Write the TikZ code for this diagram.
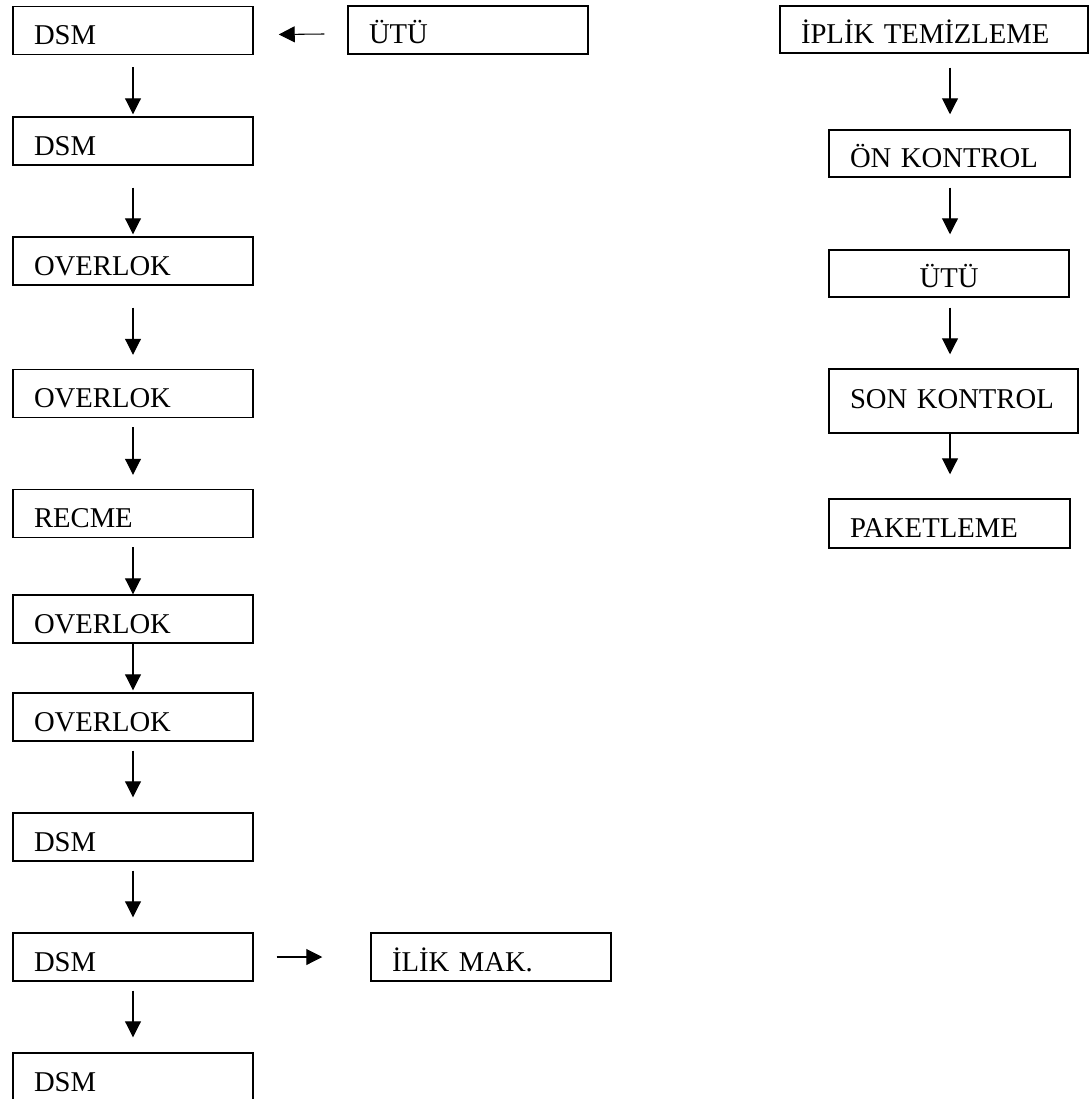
\documentclass[tikz,border=0pt]{standalone}
\usepackage{fontspec}
\setmainfont{Liberation Serif}
\usetikzlibrary{arrows.meta,calc}
\begin{document}
\begin{tikzpicture}[x=0.75pt,y=-0.75pt,
  box/.style={draw, line width=1.1pt, rectangle, inner xsep=15.75pt, inner ysep=0pt,
    text height=21pt, text depth=0pt, align=left, minimum height=36pt,
    font=\fontsize{21.5}{25}\selectfont},
  lbox/.style={box, text width=148.5pt},
  arr/.style={line width=0.8pt, -{Triangle[width=12pt,length=12pt]}}]
\useasboundingbox (0,0) rectangle (1090,1099);
\fill[white] (0,0) rectangle (1090,1099);
\coordinate (rc) at (950,0);
% left column
\node[lbox] (b1) at (133,30.5) {DSM};
\node[lbox] (b2) at (133,141) {DSM};
\node[lbox] (b3) at (133,261) {OVERLOK};
\node[lbox] (b4) at (133,393.5) {OVERLOK};
\node[lbox] (b5) at (133,513.5) {RECME};
\node[lbox] (b6) at (133,619) {OVERLOK};
\node[lbox] (b7) at (133,717) {OVERLOK};
\node[lbox] (b8) at (133,837) {DSM};
\node[lbox] (b9) at (133,957) {DSM};
\node[lbox] (b10) at (133,1077) {DSM};
% side boxes
\node[lbox] (utu1) at (468,30) {ÜTÜ};
\node[lbox] (ilik) at (491,957) {İLİK MAK.};
% right column
\node[box, text width=199.5pt, minimum height=35.25pt] (ip) at (934,29.5) {İPLİK TEMİZLEME};
\node[box, text width=149.25pt, minimum height=35.25pt] (on) at (949.5,153.5) {ÖN KONTROL};
\node[box, text width=148.5pt, minimum height=35.25pt, align=center] (utu2) at (949,273.5) {ÜTÜ};
\node[box, text width=155.25pt, minimum height=48pt, text height=10.5pt] (son) at (953.5,401) {SON KONTROL};
\node[box, text width=149.25pt, minimum height=36.75pt] (pak) at (949.5,523.5) {PAKETLEME};
% left arrows
\draw[arr] ($(b1.south)+(0,12)$) -- ($(b2.north)+(0,-2)$);
\draw[arr] ($(b2.south)+(0,22)$) -- ($(b3.north)+(0,-2)$);
\draw[arr] ($(b3.south)+(0,22)$) -- ($(b4.north)+(0,-14)$);
\draw[arr] ($(b4.south)+(0,9)$) -- ($(b5.north)+(0,-14)$);
\draw[arr] ($(b5.south)+(0,9)$) -- (b6.north);
\draw[arr] (b6.south) -- ($(b7.north)+(0,-2)$);
\draw[arr] ($(b7.south)+(0,9)$) -- ($(b8.north)+(0,-15)$);
\draw[arr] ($(b8.south)+(0,9)$) -- ($(b9.north)+(0,-15)$);
\draw[arr] ($(b9.south)+(0,9)$) -- ($(b10.north)+(0,-15)$);
% side arrows
\draw[arr] ($(utu1.west)+(-23,4)$) -- ($(b1.east)+(25,4)$);
\draw[arr] ($(b9.east)+(23,0)$) -- ($(ilik.west)+(-48,0)$);
% right arrows
\draw[arr] ($(ip.south -| rc)+(0,14)$) -- ($(on.north -| rc)+(0,-15)$);
\draw[arr] ($(on.south -| rc)+(0,10)$) -- ($(utu2.north -| rc)+(0,-15)$);
\draw[arr] ($(utu2.south -| rc)+(0,10)$) -- ($(son.north -| rc)+(0,-14)$);
\draw[arr] (son.south -| rc) -- ($(pak.north -| rc)+(0,-24)$);
\end{tikzpicture}
\end{document}
